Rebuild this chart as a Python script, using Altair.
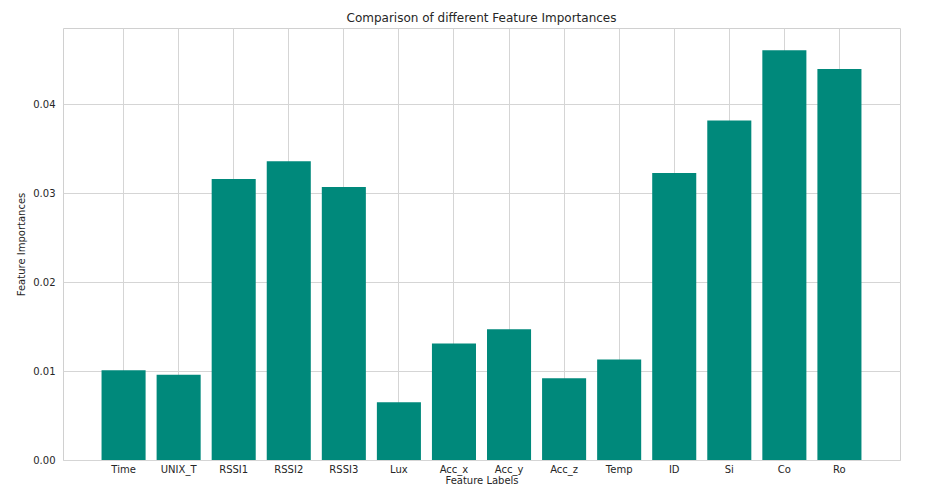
import altair as alt
import pandas as pd

labels = ["Time", "UNIX_T", "RSSI1", "RSSI2", "RSSI3", "Lux", "Acc_x", "Acc_y",
          "Acc_z", "Temp", "ID", "Si", "Co", "Ro"]
importances = [0.0101, 0.0096, 0.0316, 0.0336, 0.0307, 0.0065, 0.0131, 0.0147,
               0.0092, 0.0113, 0.0323, 0.0382, 0.0461, 0.0440]

df = pd.DataFrame({"label": labels, "imp": importances})

chart = alt.Chart(df).mark_bar(color="#00897b").encode(
    x=alt.X("label:N", sort=labels, title="Feature Labels",
            scale=alt.Scale(paddingInner=0.2, paddingOuter=0.7),
            axis=alt.Axis(labelAngle=0, bandPosition=0.5, ticks=False, domain=False,
                          grid=True, labelPadding=4, titlePadding=1)),
    y=alt.Y("imp:Q", title="Feature Importances",
            scale=alt.Scale(domain=[0, 0.0486], nice=False),
            axis=alt.Axis(values=[0, 0.01, 0.02, 0.03, 0.04], format=".2f",
                          ticks=False, domain=False, labelPadding=8, titlePadding=6)),
).properties(
    width=837, height=432,
    title=alt.Title("Comparison of different Feature Importances", fontSize=12,
                    fontWeight="normal", color="#262626", offset=3),
    autosize=alt.AutoSizeParams(type="none"),
    padding={"left": 55, "top": 20, "right": 39, "bottom": 28},
).configure_view(stroke="#d0d0d0").configure_axis(
    gridColor="#d5d5d5", labelFontSize=10, titleFontSize=10, labelColor="#262626",
    titleColor="#262626", titleFontWeight="normal", labelFont="DejaVu Sans",
    titleFont="DejaVu Sans",
).configure_title(font="DejaVu Sans")

chart.save("out.html", embed_options={"renderer": "svg", "actions": False})
